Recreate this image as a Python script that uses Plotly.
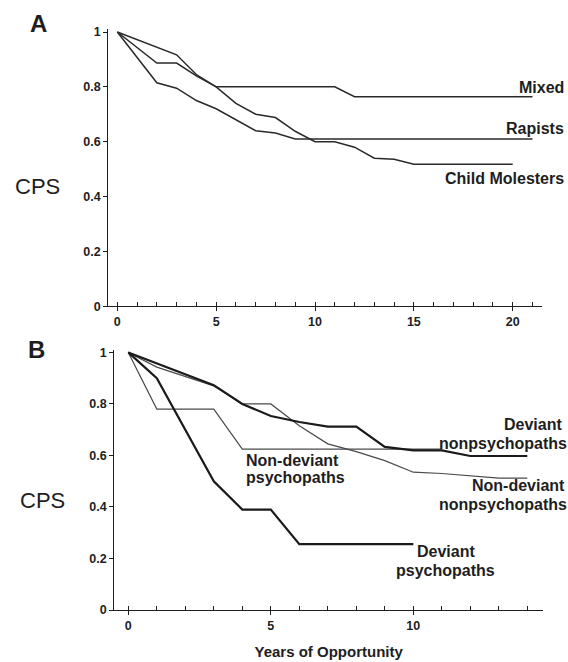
import plotly.graph_objects as go

W, H = 568, 662

# ---- Panel A data (years, CPS) ----
mixed_x = [0, 3, 4, 5, 11, 12, 21]
mixed_y = [1.0, 0.917, 0.845, 0.80, 0.80, 0.764, 0.764]
rapists_x = [0, 2, 3, 4, 5, 6, 7, 8, 9, 21]
rapists_y = [1.0, 0.815, 0.795, 0.75, 0.72, 0.68, 0.64, 0.632, 0.61, 0.61]
child_x = [0, 2, 3, 4, 5, 6, 7, 8, 9, 10, 11, 12, 13, 14, 15, 20]
child_y = [1.0, 0.887, 0.887, 0.84, 0.80, 0.74, 0.70, 0.688, 0.638, 0.60, 0.60,
           0.58, 0.54, 0.536, 0.518, 0.518]

# ---- Panel B data ----
dev_psy_x = [0, 1, 3, 4, 5, 6, 10]
dev_psy_y = [1.0, 0.90, 0.50, 0.39, 0.39, 0.256, 0.256]
nondev_psy_x = [0, 1, 3, 4, 11]
nondev_psy_y = [1.0, 0.78, 0.78, 0.625, 0.625]
dev_nonpsy_x = [0, 3, 4, 5, 6, 7, 8, 9, 10, 11, 12, 14]
dev_nonpsy_y = [1.0, 0.873, 0.80, 0.753, 0.73, 0.712, 0.712, 0.633, 0.62, 0.62, 0.598, 0.598]
nondev_nonpsy_x = [0, 1, 3, 4, 5, 6, 7, 8, 9, 10, 11, 12, 13, 14]
nondev_nonpsy_y = [1.0, 0.943, 0.87, 0.80, 0.80, 0.715, 0.645, 0.615, 0.58, 0.535,
                   0.53, 0.522, 0.512, 0.512]

y_ticks = [0, 0.2, 0.4, 0.6, 0.8, 1]
y_tick_text = ["0", "0.2", "0.4", "0.6", "0.8", "1"]
xa_ticks = [0, 5, 10, 15, 20]
xb_ticks = [0, 5, 10]

FONT = "Liberation Sans"
INK = "#1e1e1e"


def px_x(p):
    return p / W


def px_y(p):
    return 1 - p / H


fig = go.Figure()

thin_a = dict(color="#2a2a2a", width=1.5)
fig.add_trace(go.Scatter(x=mixed_x, y=mixed_y, mode="lines", line=thin_a, xaxis="x", yaxis="y"))
fig.add_trace(go.Scatter(x=rapists_x, y=rapists_y, mode="lines", line=thin_a, xaxis="x", yaxis="y"))
fig.add_trace(go.Scatter(x=child_x, y=child_y, mode="lines", line=thin_a, xaxis="x", yaxis="y"))

thick_b = dict(color="#1a1a1a", width=2.2)
thin_b = dict(color="#4a4a4a", width=1.2)
fig.add_trace(go.Scatter(x=nondev_psy_x, y=nondev_psy_y, mode="lines", line=thin_b, xaxis="x2", yaxis="y2"))
fig.add_trace(go.Scatter(x=nondev_nonpsy_x, y=nondev_nonpsy_y, mode="lines", line=thin_b, xaxis="x2", yaxis="y2"))
fig.add_trace(go.Scatter(x=dev_nonpsy_x, y=dev_nonpsy_y, mode="lines", line=thick_b, xaxis="x2", yaxis="y2"))
fig.add_trace(go.Scatter(x=dev_psy_x, y=dev_psy_y, mode="lines", line=thick_b, xaxis="x2", yaxis="y2"))

tickfont = dict(family=FONT, size=12.5, color=INK, weight="bold")

# Panel A geometry (pixels)
a_left, a_right = 108.3, 542.0
a_x0_px, a_per_year = 117.3, 19.77
a_y0_px, a_y1_px = 307.3, 28.5
ytop = 1.01
a_top_px = a_y0_px - (a_y0_px - a_y1_px) * ytop

# Panel B geometry (pixels)
b_left, b_right = 114.3, 543.0
b_x0_px, b_per_year = 128.3, 28.5
b_y0_px, b_y1_px = 616.3, 354.3
b_top_px = b_y0_px - (b_y0_px - b_y1_px) * ytop

common_x = dict(showline=True, linecolor=INK, linewidth=1.3, showgrid=False, zeroline=False,
                ticks="outside", ticklen=4, tickcolor=INK, tickwidth=1.2, tickfont=tickfont,
                minor=dict(ticks="inside", ticklen=4, dtick=1, tickcolor=INK, tickwidth=1, showgrid=False))
common_y = dict(showline=True, linecolor=INK, linewidth=1.3, showgrid=False, zeroline=False,
                ticks="outside", ticklen=4, tickcolor=INK, tickwidth=1.2, tickfont=tickfont,
                tickvals=y_ticks, ticktext=y_tick_text, range=[0, ytop])

fig.update_layout(
    width=W, height=H, margin=dict(l=0, r=0, t=0, b=0),
    paper_bgcolor="white", plot_bgcolor="white", showlegend=False,
    xaxis=dict(common_x, domain=[px_x(a_left), px_x(a_right)],
               range=[(a_left - a_x0_px) / a_per_year, (a_right - a_x0_px) / a_per_year],
               tickvals=xa_ticks, anchor="y"),
    yaxis=dict(common_y, domain=[px_y(a_y0_px), px_y(a_top_px)], anchor="x"),
    xaxis2=dict(common_x, domain=[px_x(b_left), px_x(b_right)],
                range=[(b_left - b_x0_px) / b_per_year, (b_right - b_x0_px) / b_per_year],
                tickvals=xb_ticks, anchor="y2",
                title=dict(text="Years of Opportunity", font=dict(family=FONT, size=15, color=INK, weight="bold"),
                           standoff=14)),
    yaxis2=dict(common_y, domain=[px_y(b_y0_px), px_y(b_top_px)], anchor="x2"),
)

lab = dict(family=FONT, size=16, color=INK, weight="bold")


def ann(text, x, y, xanchor="center", font=lab):
    fig.add_annotation(text=text, x=px_x(x), y=px_y(y), xref="paper", yref="paper",
                       xanchor=xanchor, yanchor="middle", showarrow=False, font=font)


big = dict(family=FONT, size=24, color=INK, weight="bold")
cps = dict(family=FONT, size=22, color=INK)
ann("A", 38, 20, font=big)
ann("B", 36, 351, font=big)
ann("CPS", 37, 186, font=cps)
ann("CPS", 42, 505, font=cps)

ann("Mixed", 566, 85, xanchor="right")
ann("Rapists", 566, 127, xanchor="right")
ann("Child Molesters", 566, 177, xanchor="right")

ann("Deviant", 564, 428, xanchor="right")
ann("nonpsychopaths", 569, 447, xanchor="right")
ann("Non-deviant", 567, 490, xanchor="right")
ann("nonpsychopaths", 569, 509, xanchor="right")
ann("Non-deviant", 292, 464)
ann("psychopaths", 295, 482)
ann("Deviant", 446, 557)
ann("psychopaths", 445, 576)

fig.write_html("out.html", config={"displayModeBar": False},
               post_script="document.body.style.margin='0';document.body.style.overflow='hidden';")
